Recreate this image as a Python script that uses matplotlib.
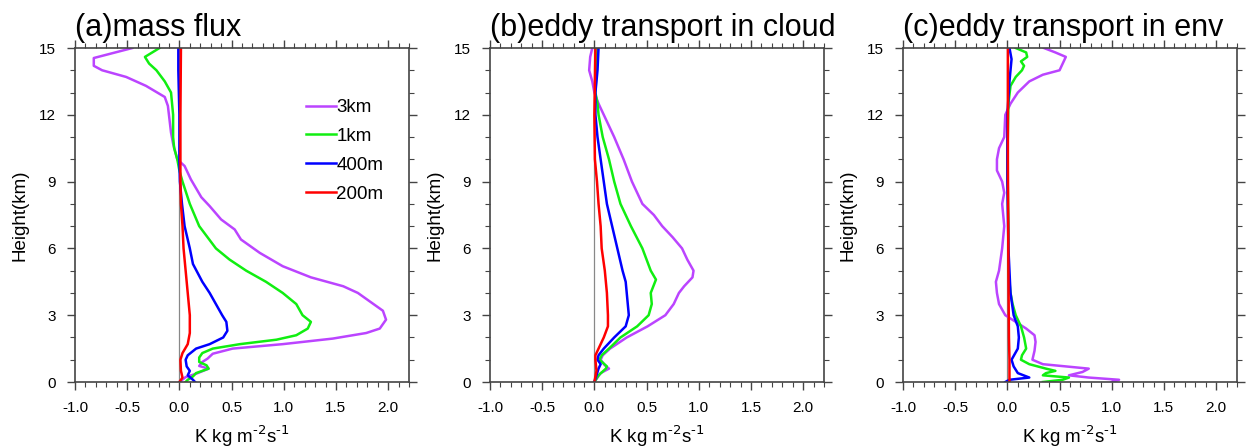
import matplotlib
matplotlib.use("Agg")
import matplotlib.pyplot as plt
from matplotlib.ticker import MultipleLocator

plt.rcParams['font.family'] = ['Liberation Sans', 'DejaVu Sans']

# panel (a) mass flux
a_3km_x = [-0.45, -0.82, -0.82, -0.74, -0.51, -0.32, -0.14, -0.11, -0.08, -0.06, -0.02, 0.05, 0.11, 0.21, 0.29, 0.40, 0.53, 0.59, 0.77, 0.99, 1.26, 1.57, 1.71, 1.86, 1.95, 1.98, 1.92, 1.79, 1.47, 0.99, 0.51, 0.32, 0.27, 0.22, 0.19, 0.28, 0.16, 0.06, 0.02, 0.0]
a_3km_z = [15.0, 14.55, 14.2, 14.0, 13.7, 13.3, 12.8, 12.4, 11.2, 10.7, 10.0, 9.7, 9.1, 8.3, 7.9, 7.3, 6.85, 6.4, 5.8, 5.2, 4.7, 4.3, 4.0, 3.5, 3.2, 2.8, 2.4, 2.2, 1.95, 1.7, 1.5, 1.27, 1.05, 0.9, 0.72, 0.6, 0.37, 0.22, 0.07, 0.0]
a_1km_x = [-0.19, -0.33, -0.29, -0.22, -0.14, -0.08, -0.06, -0.06, -0.05, -0.02, 0.0, 0.03, 0.10, 0.19, 0.35, 0.48, 0.64, 0.83, 0.99, 1.12, 1.18, 1.26, 1.23, 1.12, 0.93, 0.58, 0.32, 0.22, 0.19, 0.19, 0.26, 0.28, 0.16, 0.13, 0.08, 0.06]
a_1km_z = [15.0, 14.6, 14.3, 14.0, 13.5, 13.0, 12.0, 11.0, 10.5, 10.0, 9.5, 9.0, 8.0, 7.0, 6.0, 5.5, 5.0, 4.5, 4.0, 3.5, 3.0, 2.7, 2.4, 2.1, 1.9, 1.7, 1.5, 1.3, 1.1, 0.9, 0.75, 0.6, 0.4, 0.25, 0.1, 0.0]
a_400m_x = [-0.01, -0.01, 0.0, 0.0, 0.005, 0.025, 0.05, 0.10, 0.13, 0.22, 0.29, 0.35, 0.41, 0.45, 0.46, 0.42, 0.29, 0.16, 0.08, 0.06, 0.07, 0.10, 0.08, 0.13, 0.15]
a_400m_z = [15.0, 14.0, 12.0, 10.0, 9.0, 8.0, 7.0, 6.0, 5.3, 4.5, 4.0, 3.5, 3.0, 2.7, 2.3, 2.0, 1.7, 1.5, 1.2, 1.0, 0.7, 0.5, 0.3, 0.1, 0.0]
a_200m_x = [0.015, 0.01, 0.01, 0.01, 0.015, 0.03, 0.04, 0.06, 0.08, 0.10, 0.10, 0.08, 0.03, 0.01, 0.015, 0.03, 0.0]
a_200m_z = [15.0, 12.0, 10.0, 9.0, 8.0, 7.0, 6.0, 5.0, 4.0, 3.0, 2.2, 1.7, 1.3, 1.0, 0.5, 0.2, 0.0]

# panel (b) eddy transport in cloud
b_3km_x = [-0.02, -0.04, -0.05, -0.02, 0.0, 0.04, 0.09, 0.19, 0.28, 0.36, 0.46, 0.57, 0.65, 0.75, 0.84, 0.89, 0.95, 0.94, 0.86, 0.81, 0.76, 0.68, 0.51, 0.31, 0.15, 0.08, 0.06, 0.10, 0.14, 0.06, 0.03, 0.0]
b_3km_z = [15.0, 14.6, 14.0, 13.5, 13.0, 12.5, 12.0, 11.0, 10.0, 9.0, 8.0, 7.5, 7.0, 6.5, 6.0, 5.5, 5.0, 4.7, 4.3, 4.0, 3.5, 3.0, 2.5, 2.0, 1.5, 1.2, 1.0, 0.75, 0.6, 0.4, 0.2, 0.0]
b_1km_x = [0.03, 0.02, 0.01, 0.03, 0.04, 0.08, 0.14, 0.19, 0.25, 0.35, 0.46, 0.54, 0.59, 0.54, 0.55, 0.52, 0.41, 0.25, 0.14, 0.07, 0.05, 0.12, 0.11, 0.04, 0.0]
b_1km_z = [15.0, 14.0, 13.0, 12.5, 12.0, 11.0, 10.0, 9.0, 8.0, 7.0, 6.0, 5.0, 4.6, 4.0, 3.5, 3.0, 2.5, 2.0, 1.5, 1.2, 1.0, 0.7, 0.6, 0.3, 0.0]
b_400m_x = [0.04, 0.03, 0.01, 0.01, 0.03, 0.06, 0.09, 0.12, 0.17, 0.22, 0.27, 0.30, 0.31, 0.33, 0.30, 0.19, 0.09, 0.04, 0.03, 0.06, 0.04, 0.02, 0.0]
b_400m_z = [15.0, 14.0, 13.0, 12.0, 11.0, 10.0, 9.0, 8.0, 7.0, 6.0, 5.0, 4.5, 4.0, 3.0, 2.5, 2.0, 1.5, 1.2, 1.0, 0.8, 0.6, 0.3, 0.0]
b_200m_x = [0.01, 0.0, 0.005, 0.025, 0.04, 0.06, 0.07, 0.10, 0.12, 0.13, 0.13, 0.09, 0.04, 0.01, 0.01, 0.02, 0.0]
b_200m_z = [15.0, 12.0, 10.0, 9.0, 8.0, 7.0, 6.0, 5.0, 4.0, 3.0, 2.5, 2.0, 1.5, 1.2, 1.0, 0.5, 0.0]

# panel (c) eddy transport in env
c_3km_x = [0.35, 0.46, 0.56, 0.53, 0.50, 0.34, 0.21, 0.10, 0.03, -0.02, -0.03, -0.08, -0.10, -0.10, -0.05, -0.03, -0.05, -0.03, -0.05, -0.08, -0.11, -0.10, -0.08, -0.02, 0.08, 0.18, 0.26, 0.27, 0.26, 0.24, 0.34, 0.78, 0.72, 0.59, 0.78, 1.07, 1.0]
c_3km_z = [15.0, 14.8, 14.6, 14.3, 14.0, 13.8, 13.5, 13.0, 12.5, 12.0, 11.0, 10.5, 10.0, 9.5, 9.0, 8.5, 8.0, 7.0, 6.0, 5.0, 4.5, 4.0, 3.5, 3.0, 2.7, 2.4, 2.1, 1.8, 1.4, 1.0, 0.8, 0.6, 0.45, 0.3, 0.2, 0.1, 0.0]
c_1km_x = [0.08, 0.18, 0.19, 0.13, 0.16, 0.14, 0.08, 0.03, 0.01, 0.0, 0.01, 0.01, 0.03, 0.05, 0.08, 0.13, 0.16, 0.18, 0.14, 0.13, 0.21, 0.37, 0.46, 0.37, 0.34, 0.59, 0.53, 0.34]
c_1km_z = [15.0, 14.8, 14.6, 14.4, 14.2, 14.0, 13.7, 13.3, 12.5, 10.0, 7.0, 5.0, 4.0, 3.5, 3.0, 2.5, 2.0, 1.5, 1.2, 1.0, 0.8, 0.6, 0.5, 0.4, 0.3, 0.2, 0.1, 0.0]
c_400m_x = [0.02, 0.04, 0.03, 0.02, 0.0, 0.0, 0.01, 0.02, 0.03, 0.06, 0.10, 0.11, 0.10, 0.04, 0.06, 0.10, 0.21, 0.02, -0.02]
c_400m_z = [15.0, 14.5, 14.0, 13.5, 12.0, 9.0, 6.0, 5.0, 4.0, 3.0, 2.5, 2.0, 1.5, 1.0, 0.7, 0.4, 0.2, 0.1, 0.0]
c_200m_x = [0.005, 0.005, 0.01, 0.015, 0.02, 0.02]
c_200m_z = [15.0, 10.0, 5.0, 2.0, 1.0, 0.0]

labels = ['3km', '1km', '400m', '200m']
colors = ['#BB44FF', '#11EE11', '#0000FF', '#FF0000']
titles = ['(a)mass flux', '(b)eddy transport in cloud', '(c)eddy transport in env']
xticks = [-1.0, -0.5, 0.0, 0.5, 1.0, 1.5, 2.0]
xticklabels = ['-1.0', '-0.5', '0.0', '0.5', '1.0', '1.5', '2.0']

panels = [
    [(a_3km_x, a_3km_z), (a_1km_x, a_1km_z), (a_400m_x, a_400m_z), (a_200m_x, a_200m_z)],
    [(b_3km_x, b_3km_z), (b_1km_x, b_1km_z), (b_400m_x, b_400m_z), (b_200m_x, b_200m_z)],
    [(c_3km_x, c_3km_z), (c_1km_x, c_1km_z), (c_400m_x, c_400m_z), (c_200m_x, c_200m_z)],
]

fig = plt.figure(figsize=(12.48, 4.47), dpi=100)
lefts = [75, 490, 903]

for i, left in enumerate(lefts):
    ax = fig.add_axes([left / 1248, 65 / 447, 334 / 1248, 334 / 447])
    ax.axvline(0, color='#888888', lw=0.9, zorder=1)
    for (x, z), lab, c in zip(panels[i], labels, colors):
        ax.plot(x, z, color=c, lw=1.8, label=lab, zorder=2)
    ax.set_xlim(-1.0, 2.2)
    ax.set_ylim(0, 15)
    ax.set_xticks(xticks)
    ax.set_xticklabels(xticklabels)
    ax.xaxis.set_minor_locator(MultipleLocator(0.1))
    ax.yaxis.set_major_locator(MultipleLocator(3))
    ax.yaxis.set_minor_locator(MultipleLocator(1))
    ax.tick_params(which='both', direction='out', top=True, right=True,
                   labeltop=False, labelright=False, color='#444444')
    ax.tick_params(which='major', length=6, width=1.0, labelsize=11, pad=8)
    ax.tick_params(which='minor', length=3.5, width=0.8)
    for s in ax.spines.values():
        s.set_linewidth(1.2)
        s.set_color('#444444')
    ax.set_ylabel('Height(km)', fontsize=13.5, labelpad=7)
    ax.set_xlabel(r'K kg m$^{\text{-2}}$s$^{\text{-1}}$', fontsize=13.5, labelpad=6)
    ax.set_title(titles[i], fontsize=22, loc='left', pad=9, x=0.0)
    if i == 0:
        ax.legend(loc='upper left', bbox_to_anchor=(0.665, 0.875), frameon=False,
                  fontsize=13.5, handlelength=1.6, handletextpad=0.0,
                  labelspacing=0.62, borderpad=0)

fig.savefig('out.png', dpi=100)
